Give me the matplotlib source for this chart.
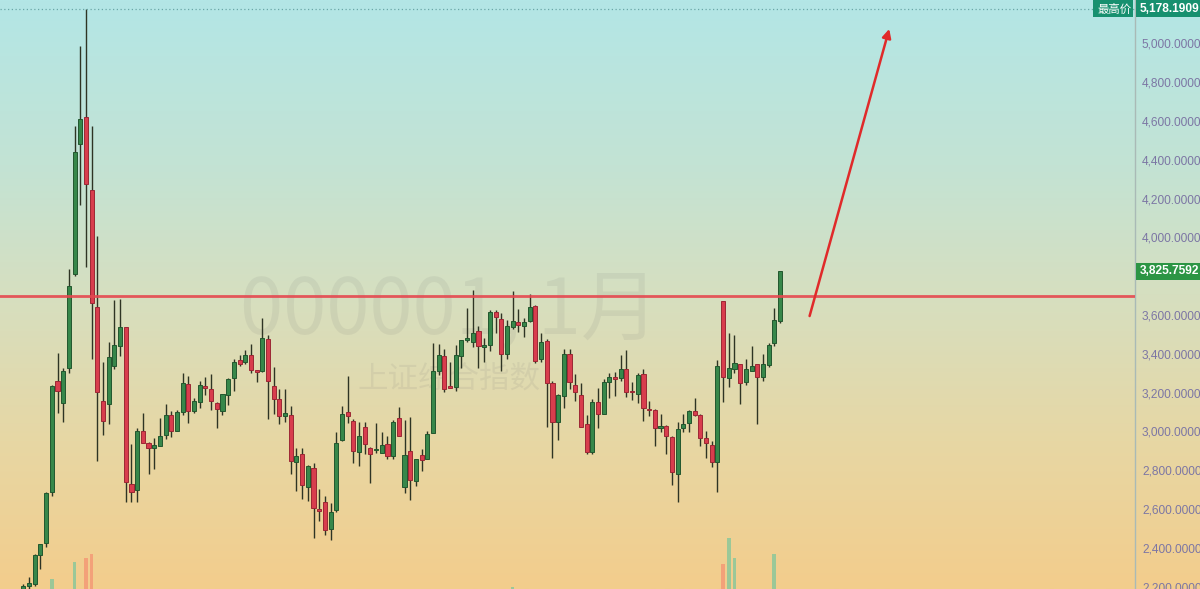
import numpy as np
import pandas as pd
import matplotlib
matplotlib.use("Agg")
import matplotlib.pyplot as plt
import matplotlib.transforms as mtransforms
from matplotlib.patches import Rectangle
from matplotlib.colors import LinearSegmentedColormap

plt.rcParams['font.family'] = ['Liberation Sans', 'Noto Sans CJK SC']

# ---------------- data: Shanghai Composite (000001), monthly ----------------
months = pd.date_range('2014-01-01', periods=140, freq='MS').strftime('%Y-%m').tolist()

opens = [
    2112, 2030, 2054, 2032, 2024, 2040, 2050, 2203, 2213, 2364, 2424, 2690,   # 2014
    3259, 3148, 3328, 3810, 4481, 4622, 4246, 3643, 3157, 3141, 3337, 3441,   # 2015
    3536, 2730, 2699, 3000, 2938, 2917, 2925, 2980, 3085, 3002, 3102, 3243,   # 2016
    3105, 3150, 3236, 3220, 3148, 3105, 3188, 3275, 3367, 3356, 3396, 3316,   # 2017
    3314, 3479, 3236, 3165, 3081, 3085, 2841, 2882, 2716, 2812, 2599, 2637,   # 2018
    2497, 2596, 2954, 3102, 3052, 2893, 3024, 2914, 2905, 2890, 2933, 2876,   # 2019
    3067, 2716, 2900, 2744, 2879, 2858, 2990, 3314, 3388, 3233, 3230, 3388,   # 2020
    3474, 3461, 3519, 3437, 3446, 3614, 3581, 3400, 3537, 3566, 3545, 3567,   # 2021
    3649, 3372, 3465, 3251, 3047, 3182, 3400, 3240, 3186, 3036, 2896, 3153,   # 2022
    3088, 3253, 3281, 3275, 3322, 3203, 3195, 3298, 3116, 3112, 3020, 3028,   # 2023
    2972, 2780, 3018, 3044, 3105, 3085, 2968, 2931, 2842, 3674, 3275, 3322,   # 2024
    3347, 3253, 3314, 3347, 3282, 3345, 3454, 3568,                           # 2025
]
highs = [
    2113, 2177, 2075, 2147, 2062, 2075, 2215, 2248, 2367, 2422, 2688, 3239,
    3406, 3325, 3835, 4572, 4986, 5178.19, 4572, 4006, 3357, 3459, 3678, 3684,
    3539, 2933, 3018, 3097, 2945, 2964, 3069, 3140, 3106, 3113, 3301, 3288,
    3174, 3260, 3282, 3295, 3150, 3195, 3276, 3374, 3392, 3418, 3451, 3317,
    3587, 3495, 3334, 3220, 3219, 3131, 2916, 2915, 2827, 2838, 2703, 2667,
    2631, 2995, 3129, 3288, 3064, 3049, 3049, 2918, 3042, 2996, 2975, 3058,
    3127, 3058, 3072, 2857, 2912, 3000, 3458, 3453, 3426, 3359, 3445, 3474,
    3637, 3731, 3545, 3482, 3627, 3625, 3611, 3575, 3723, 3629, 3584, 3708,
    3652, 3508, 3478, 3260, 3194, 3424, 3423, 3296, 3252, 3086, 3169, 3226,
    3270, 3301, 3308, 3395, 3418, 3257, 3300, 3322, 3158, 3114, 3088, 3035,
    2977, 3050, 3091, 3111, 3175, 3092, 3003, 2950, 3369, 3674, 3510, 3495,
    3350, 3376, 3439, 3350, 3400, 3456, 3636, 3826,
]
lows = [
    1984, 2026, 1974, 2014, 1991, 2010, 2042, 2190, 2206, 2292, 2404, 2667,
    3095, 3050, 3302, 3800, 4167, 3847, 3373, 2850, 2983, 3039, 3323, 3391,
    2638, 2639, 2638, 2938, 2781, 2807, 2929, 2962, 2969, 3002, 3085, 3044,
    3094, 3121, 3189, 3111, 3017, 3083, 3136, 3211, 3340, 3346, 3303, 3254,
    3306, 3063, 3091, 3041, 3049, 2782, 2691, 2653, 2644, 2449, 2538, 2464,
    2441, 2585, 2952, 3045, 2838, 2823, 2882, 2733, 2890, 2889, 2857, 2857,
    2976, 2685, 2646, 2720, 2798, 2858, 2990, 3291, 3202, 3225, 3209, 3325,
    3463, 3436, 3328, 3356, 3416, 3508, 3312, 3375, 3527, 3515, 3489, 3565,
    3353, 3357, 3023, 2863, 2955, 3119, 3217, 3155, 3021, 2886, 2885, 3017,
    3088, 3174, 3184, 3258, 3176, 3163, 3147, 3053, 3081, 2923, 2997, 2882,
    2724, 2635, 2995, 2995, 3082, 2925, 2865, 2815, 2689, 3152, 3230, 3300,
    3140, 3242, 3315, 3041, 3262, 3331, 3442, 3559,
]
closes = [
    2033, 2056, 2033, 2026, 2039, 2048, 2201, 2217, 2363, 2420, 2682, 3234,
    3210, 3310, 3748, 4441, 4611, 4277, 3663, 3205, 3052, 3382, 3445, 3539,
    2737, 2687, 3003, 2938, 2916, 2929, 2979, 3085, 3004, 3100, 3250, 3104,
    3159, 3241, 3223, 3155, 3117, 3192, 3273, 3360, 3349, 3393, 3317, 3307,
    3481, 3259, 3169, 3082, 3095, 2847, 2876, 2725, 2821, 2603, 2588, 2494,
    2585, 2941, 3091, 3078, 2899, 2979, 2933, 2886, 2905, 2929, 2871, 3050,
    2977, 2880, 2750, 2860, 2852, 2985, 3310, 3396, 3218, 3225, 3392, 3473,
    3483, 3509, 3442, 3447, 3615, 3591, 3397, 3544, 3568, 3547, 3564, 3640,
    3361, 3462, 3252, 3047, 3186, 3399, 3253, 3202, 3024, 2893, 3151, 3089,
    3256, 3280, 3273, 3323, 3205, 3202, 3291, 3120, 3110, 3018, 3030, 2975,
    2789, 3015, 3041, 3105, 3087, 2967, 2939, 2842, 3336, 3279, 3326, 3352,
    3250, 3321, 3336, 3279, 3347, 3444, 3573, 3825.7592,
]

# volume bars that rise into view at the bottom of the chart (trillion CNY)
vol_months = ['2014-12', '2015-04', '2015-06', '2015-07', '2021-09',
              '2024-10', '2024-11', '2024-12', '2025-07']
vol_values = [15.7, 18.5, 19.2, 19.8, 14.3, 18.2, 22.5, 19.2, 19.8]

price_ticks = [2200, 2400, 2600, 2800, 3000, 3200, 3400, 3600,
               4000, 4200, 4400, 4600, 4800, 5000]
resistance = 3700
max_price = 5178.1909
last_price = 3825.7592

# ---------------- figure ----------------
W, H = 1200, 589
fig = plt.figure(figsize=(W / 100, H / 100), dpi=100)

# gradient background
bg = fig.add_axes([0, 0, 1, 1], zorder=-10)
cmap = LinearSegmentedColormap.from_list(
    'bg', [(0.0, '#b3e6e6'), (0.28, '#c3e3d4'), (0.5, '#d6dfc0'),
           (0.75, '#e7d7a4'), (1.0, '#f3cd8c')])
grad = np.linspace(0, 1, 256).reshape(-1, 1)
bg.imshow(grad, aspect='auto', cmap=cmap, extent=[0, 1, 0, 1], origin='upper')
bg.set_axis_off()

ax_right = 1135 / W
ax = fig.add_axes([0, 0, ax_right, 1])
ax.patch.set_alpha(0)

n = len(closes)
x = np.arange(n)
o = np.array(opens, float)
h = np.array(highs, float)
l = np.array(lows, float)
c = np.array(closes, float)
up = c >= o

ymin, ymax = 2188, 5224
ax.set_ylim(ymin, ymax)
ax.set_xlim(1.89, 201.4)

# watermark
ax.text(0.396, 0.47, '000001, 1月', transform=ax.transAxes, ha='center', va='center',
        fontsize=56, family=['Noto Sans CJK SC'], color=(0.45, 0.45, 0.45), alpha=0.11,
        zorder=0)
ax.text(0.396, 0.357, '上证综合指数', transform=ax.transAxes, ha='center', va='center',
        fontsize=22, family=['Noto Sans CJK SC'], color=(0.45, 0.45, 0.45), alpha=0.11,
        zorder=0)

# volume (overlay)
axv = ax.twinx()
axv.set_ylim(14, 14 + H / 6)
axv.set_axis_off()
idx = {m: i for i, m in enumerate(months)}
vx = [idx[m] for m in vol_months]
vcol = ['#8cc79a' if up[i] else '#f49a76' for i in vx]
axv.bar(vx, vol_values, width=0.65, color=vcol, alpha=0.85, zorder=1)

# candles
ax.vlines(x, l, h, color='#2e3424', lw=1.0, zorder=2)
body_b = np.minimum(o, c)
body_h = np.maximum(np.abs(c - o), 7)
face = np.where(up, '#37874a', '#d83d4d')
edge = np.where(up, '#22572e', '#9c2734')
ax.bar(x, body_h, bottom=body_b, width=0.72, color=face, edgecolor=edge, lw=0.7, zorder=3)

# lines
ax.axhline(resistance, color='#e5474f', lw=2.0, alpha=0.9, zorder=4)
ax.axhline(max_price, color='#6aa6a6', lw=0.9, ls=(0, (1, 2)), zorder=4)

# arrow
ax.annotate('', xy=(158.2, 5075), xytext=(144.2, 3595),
            arrowprops=dict(arrowstyle='-|>', color='#e02a2a', lw=1.8,
                            mutation_scale=13, shrinkA=0, shrinkB=0), zorder=5)

# right price axis
for s in ['top', 'left', 'bottom']:
    ax.spines[s].set_visible(False)
ax.spines['right'].set_color('#a9bab6')
ax.spines['right'].set_linewidth(1.0)
ax.set_xticks([])
ax.yaxis.tick_right()
ax.set_yticks(price_ticks)
ax.set_yticklabels([f'{v:,.4f}' for v in price_ticks])
ax.tick_params(axis='y', length=0, pad=5, labelsize=8.6, labelcolor='#7c76a4')

# label boxes
tr = mtransforms.blended_transform_factory(fig.transFigure, ax.transData)
px2d = (ymax - ymin) / H
def box(x0px, x1px, v, color, text, fs, bold=True, cjk=False):
    hgt = 17 * px2d
    r = Rectangle((x0px / W, v - hgt / 2), (x1px - x0px) / W, hgt, transform=tr,
                  facecolor=color, edgecolor='none', clip_on=False, zorder=10)
    fig.add_artist(r)
    fam = ['Noto Sans CJK SC'] if cjk else ['Liberation Sans']
    t = fig.text((x0px + 4) / W, v, text, transform=tr, ha='left', va='center',
                 color='white', fontsize=fs, fontweight='bold' if bold else 'normal',
                 family=fam, zorder=11)
    return t

box(1093, 1133, max_price, '#17906f', '最高价', 8.2, bold=False, cjk=True)
box(1136, 1200, max_price, '#17906f', f'{max_price:,.4f}', 8.6)
box(1136, 1200, last_price, '#2c9544', f'{last_price:,.4f}', 8.6)

fig.savefig('out.png', dpi=100)
